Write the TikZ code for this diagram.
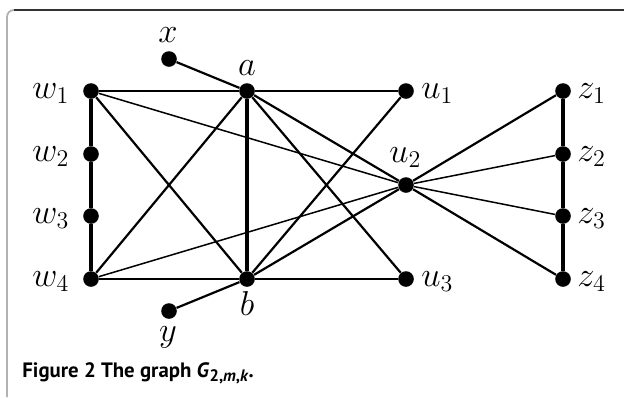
\documentclass[tikz,border=0pt]{standalone}
\usepackage{amsmath,amssymb}
\usepackage{fontspec}
\newfontfamily\capfont{PT Sans}
\usepackage{tikz}
\usetikzlibrary{positioning}

\begin{document}
\begin{tikzpicture}[x=0.5pt,y=-0.5pt,
      vtx/.style={circle,fill=black,draw=none,inner sep=0pt,minimum size=7.8pt},
      lbl/.style={inner sep=0pt,font=\fontsize{16.5}{19}\selectfont},
      edge/.style={line width=1.1pt},
      heavy/.style={line width=1.6pt},
      light/.style={line width=0.75pt}]
    \useasboundingbox (0,0) rectangle (624,397);
    % frame
    \draw[gray!60,line width=0.9pt,rounded corners=3.5pt] (7,397) -- (7,10) -- (40,10);
    \draw[black!80,line width=0.8pt] (14,10) -- (624,10);
    % vertices
    \node[vtx] (w1) at (91,91) {};
    \node[vtx] (w2) at (91,154) {};
    \node[vtx] (w3) at (91,216) {};
    \node[vtx] (w4) at (91,279) {};
    \node[vtx] (a) at (247,91) {};
    \node[vtx] (b) at (247,279) {};
    \node[vtx] (x) at (169,59) {};
    \node[vtx] (y) at (169,311) {};
    \node[vtx] (u1) at (406,91) {};
    \node[vtx] (u2) at (406,185) {};
    \node[vtx] (u3) at (406,279) {};
    \node[vtx] (z1) at (563,91) {};
    \node[vtx] (z2) at (563,154) {};
    \node[vtx] (z3) at (563,216) {};
    \node[vtx] (z4) at (563,279) {};
    % labels
    \node[lbl,anchor=base west] (lw1) at (32,98) {$w_1$};
    \node[lbl,anchor=base west] (lw2) at (32,161) {$w_2$};
    \node[lbl,anchor=base west] (lw3) at (32,223) {$w_3$};
    \node[lbl,anchor=base west] (lw4) at (32,286) {$w_4$};
    \node[lbl,anchor=base] (lx) at (168,42) {$x$};
    \node[lbl,anchor=base] (la) at (247,75) {$a$};
    \node[lbl,anchor=base] (lb) at (247,315) {$b$};
    \node[lbl,anchor=base] (ly) at (168,341) {$y$};
    \node[lbl,anchor=base west] (lu1) at (421,98) {$u_1$};
    \node[lbl,anchor=base west] (lu2) at (389,162) {$u_2$};
    \node[lbl,anchor=base west] (lu3) at (421,286) {$u_3$};
    \node[lbl,anchor=base west] (lz1) at (577,98) {$z_1$};
    \node[lbl,anchor=base west] (lz2) at (577,161) {$z_2$};
    \node[lbl,anchor=base west] (lz3) at (577,223) {$z_3$};
    \node[lbl,anchor=base west] (lz4) at (577,286) {$z_4$};
    % paths on the sides
    \draw[heavy] (w1) -- (w2) -- (w3) -- (w4);
    \draw[heavy] (z1) -- (z2) -- (z3) -- (z4);
    \draw[heavy] (a) -- (b);
    % edges
    \draw[edge] (w1) -- (a) -- (u1);
    \draw[edge] (w4) -- (b) -- (u3);
    \draw[edge] (x) -- (a);
    \draw[edge] (y) -- (b);
    \draw[edge] (w1) -- (b);
    \draw[edge] (w4) -- (a);
    \draw[edge] (a) -- (u2);
    \draw[edge] (a) -- (u3);
    \draw[edge] (b) -- (u1);
    \draw[edge] (b) -- (u2);
    \draw[light] (w1) -- (u2);
    \draw[light] (w4) -- (u2);
    \draw[edge] (u2) -- (z1);
    \draw[light] (u2) -- (z2);
    \draw[light] (u2) -- (z3);
    \draw[edge] (u2) -- (z4);
    % caption
    \node[anchor=base west,inner sep=0pt,font=\capfont\bfseries\fontsize{10.4}{12}\selectfont]
          (cap) at (22,377) {Figure 2 The graph \textit{G}\raisebox{-0.4ex}{\fontsize{8.3}{9}\selectfont 2,\textit{m},\textit{k}}.};
  \end{tikzpicture}
\end{document}
